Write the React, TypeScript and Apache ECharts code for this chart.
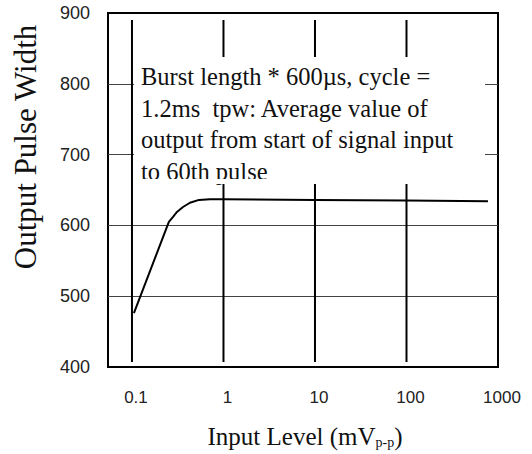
import React, { useEffect, useRef } from "react";
import * as echarts from "echarts";

// Input level (mVp-p) and output pulse width
const inputLevel = [0.105, 0.253, 0.281, 0.31, 0.361, 0.43, 0.54, 0.711, 1, 10, 100, 777];
const pulseWidth = [476, 605, 612, 619, 626, 632, 636, 637, 637, 636, 635, 634];

// vertical grid lines of the original (decades) and their vertical extent
const gridLineX = [0.1, 1, 10, 100];
const gridLineSpan = [407, 890];

const xTickLabels = ["0.1", "1", "10", "100", "1000"];
const yMin = 400;
const yMax = 900;
const yStep = 100;
const xMin = 0.0547;
const xMax = 1000;

const noteLines = [
  "Burst length * 600\u00b5s, cycle =",
  "1.2ms  tpw: Average value of",
  "output from start of signal input",
  "to 60th pulse",
];

export default function App() {
  const ref = useRef<HTMLDivElement>(null);
  useEffect(() => {
    if (!ref.current) return;
    const chart = echarts.init(ref.current, undefined, { renderer: "svg" });
    const curve = inputLevel.map((x, i) => [x, pulseWidth[i]]);
    const vSeries = gridLineX.map((x) => ({
      type: "line",
      data: gridLineSpan.map((y) => [x, y]),
      symbol: "none",
      silent: true,
      z: 3,
      lineStyle: { color: "#000", width: 2 },
    }));
    chart.setOption({
      animation: false,
      grid: {
        left: 108,
        right: 34,
        top: 13,
        bottom: 87,
        show: true,
        borderColor: "#000",
        borderWidth: 2,
        backgroundColor: "#fff",
      },
      xAxis: {
        type: "log",
        logBase: 10,
        min: xMin,
        max: xMax,
        axisLine: { show: false },
        axisTick: { show: false },
        splitLine: { show: false },
        axisLabel: {
          fontFamily: "Liberation Sans",
          fontSize: 17,
          color: "#222",
          margin: 22,
          padding: [0, 0, 0, 8],
          formatter: (v: number) => {
            const hit = xTickLabels.find(
              (t) => Math.abs(Math.log10(Number(t)) - Math.log10(v)) < 1e-6
            );
            return hit ?? "";
          },
        },
        name: "{a|Input Level (mV}{b|p-p}{a|)}",
        nameLocation: "middle",
        nameGap: 52,
        nameTextStyle: {
          padding: [0, 0, 0, 4],
          rich: {
            a: {
              fontFamily: "Liberation Serif",
              fontSize: 25,
              lineHeight: 30,
              color: "#111",
              verticalAlign: "bottom",
            },
            b: {
              fontFamily: "Liberation Serif",
              fontSize: 14,
              lineHeight: 14,
              color: "#111",
              verticalAlign: "bottom",
            },
          },
        },
      },
      yAxis: {
        type: "value",
        min: yMin,
        max: yMax,
        interval: yStep,
        axisLine: { show: false },
        axisTick: { show: false },
        splitLine: {
          show: true,
          showMinLine: false,
          showMaxLine: false,
          lineStyle: { color: "#444", width: 1.2 },
        },
        axisLabel: {
          fontFamily: "Liberation Sans",
          fontSize: 18,
          color: "#222",
          margin: 18,
        },
      },
      series: [
        ...vSeries,
        {
          type: "line",
          data: curve,
          symbol: "none",
          z: 4,
          lineStyle: { color: "#000", width: 2 },
        },
      ],
      graphic: [
        {
          type: "rect",
          z: 100,
          shape: { x: 134, y: 57, width: 351, height: 126 },
          style: { fill: "#fff" },
        },
        {
          type: "text",
          z: 101,
          x: 141,
          y: 61,
          style: {
            text: noteLines.join("\n"),
            font: '24.5px "Liberation Serif"',
            fill: "#111",
            lineHeight: 31.5,
            textVerticalAlign: "top",
          },
        },
        {
          type: "rect",
          z: 102,
          shape: { x: 134, y: 179, width: 351, height: 5 },
          style: { fill: "#fff" },
        },
        {
          type: "text",
          z: 101,
          x: 25,
          y: 147,
          rotation: Math.PI / 2,
          style: {
            text: "Output Pulse Width",
            font: '31px "Liberation Serif"',
            fill: "#111",
            textAlign: "center",
            textVerticalAlign: "middle",
          },
        },
      ],
    });
    return () => chart.dispose();
  }, []);
  return (
    <div
      ref={ref}
      style={{ position: "fixed", left: 0, top: 0, width: 532, height: 454, background: "#fff" }}
    />
  );
}
